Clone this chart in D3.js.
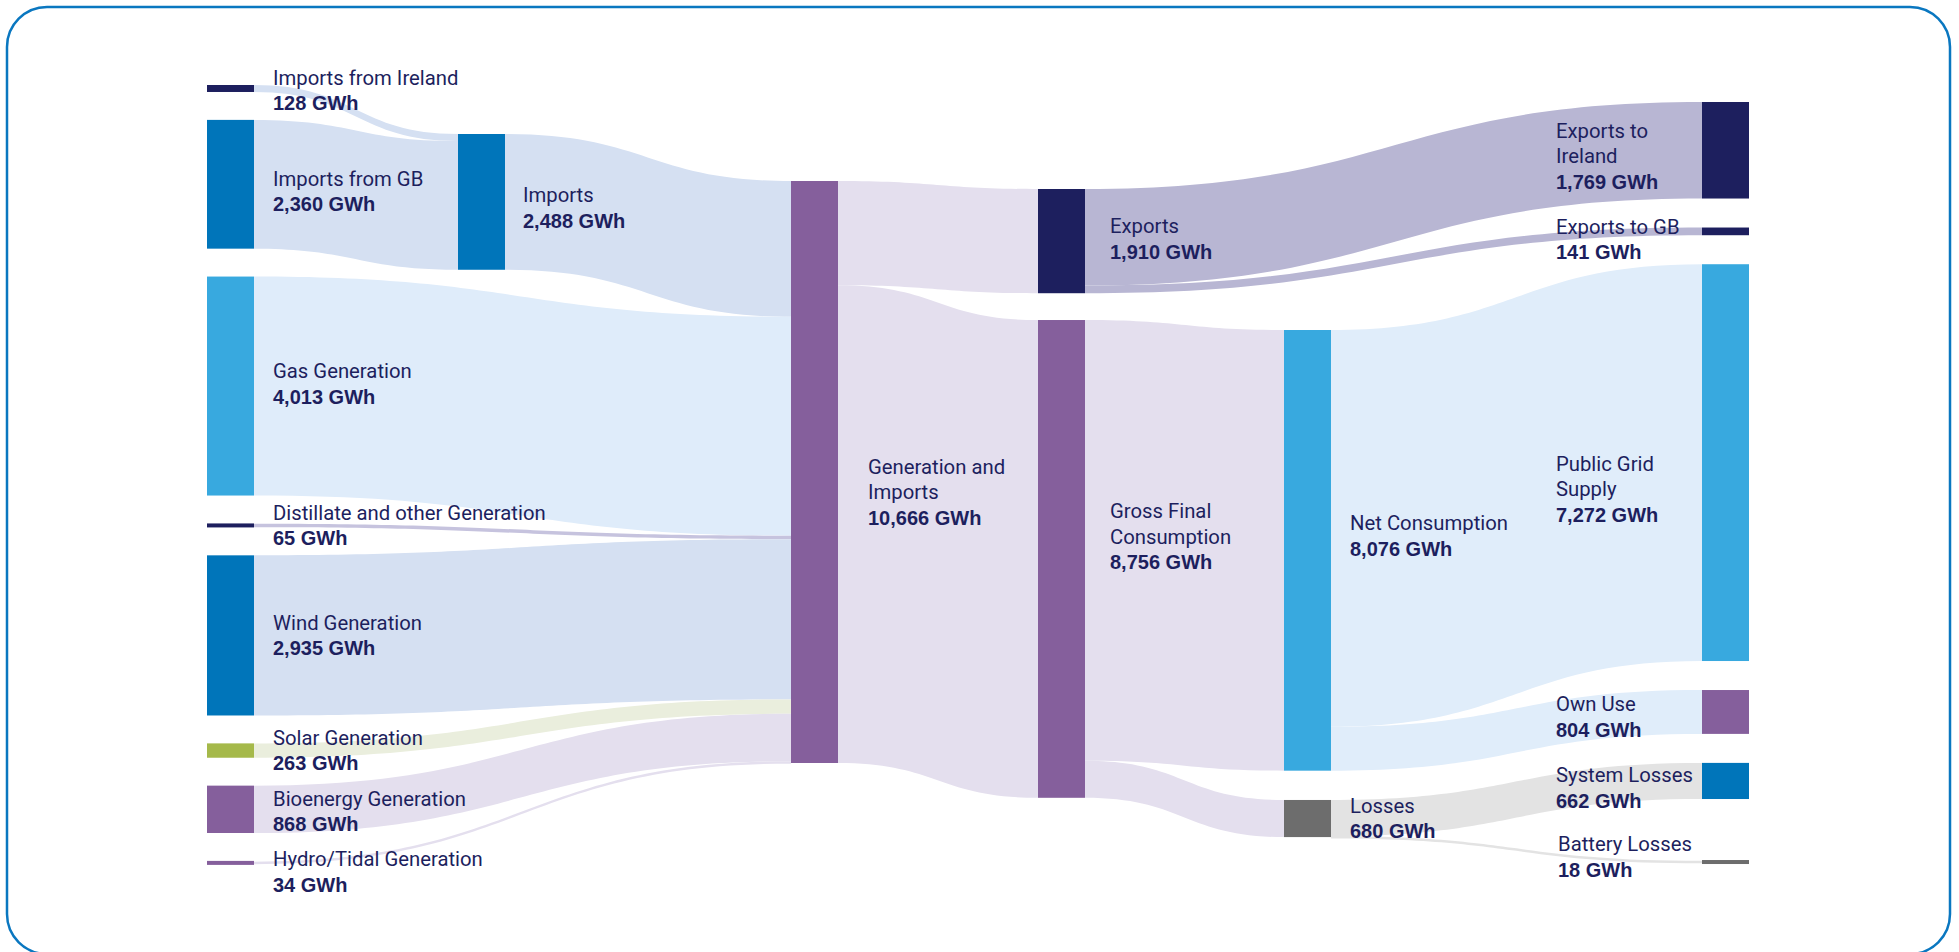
<!DOCTYPE html>
<html>
<head>
<meta charset="utf-8">
<script src="https://cdn.jsdelivr.net/npm/d3@7"></script>
<style>
  html, body { margin: 0; padding: 0; background: #ffffff; }
  svg { display: block; }
  .name { font-family: Roboto, "Liberation Sans", Arial, sans-serif; font-size: 20.3px; fill: #1d1f5e; }
  .val { font-family: "Liberation Sans", Arial, sans-serif; font-size: 20px; font-weight: 700; fill: #1d1f5e; }
</style>
</head>
<body>
<svg id="chart" width="1959" height="952"></svg>
<script>
// ---- Data -----------------------------------------------------------------
const nodeNames = [
  "Imports from Ireland", "Imports from GB", "Gas Generation",
  "Distillate and other Generation", "Wind Generation", "Solar Generation",
  "Bioenergy Generation", "Hydro/Tidal Generation",
  "Imports", "Generation and Imports",
  "Exports", "Gross Final Consumption",
  "Net Consumption", "Losses",
  "Exports to Ireland", "Exports to GB", "Public Grid Supply",
  "Own Use", "System Losses", "Battery Losses"
];
// label text as printed (line breaks where the label wraps)
const nodeLabels = [
  ["Imports from Ireland"], ["Imports from GB"], ["Gas Generation"],
  ["Distillate and other Generation"], ["Wind Generation"], ["Solar Generation"],
  ["Bioenergy Generation"], ["Hydro/Tidal Generation"],
  ["Imports"], ["Generation and", "Imports"],
  ["Exports"], ["Gross Final", "Consumption"],
  ["Net Consumption"], ["Losses"],
  ["Exports to", "Ireland"], ["Exports to GB"], ["Public Grid", "Supply"],
  ["Own Use"], ["System Losses"], ["Battery Losses"]
];
// flow stage of each node
const nodeStage = [0, 0, 0, 0, 0, 0, 0, 0, 1, 2, 3, 3, 4, 4, 5, 5, 5, 5, 5, 5];

// flows in GWh
const linkSource = [0, 1, 8, 2, 3, 4, 5, 6, 7, 9, 9, 10, 10, 11, 11, 12, 12, 13, 13];
const linkTarget = [8, 8, 9, 9, 9, 9, 9, 9, 9, 10, 11, 14, 15, 12, 13, 16, 17, 18, 19];
const linkValue  = [128, 2360, 2488, 4013, 65, 2935, 263, 868, 34, 1910, 8756, 1769, 141, 8076, 680, 7272, 804, 662, 18];

// ---- Styles ---------------------------------------------------------------
const NAVY = "#1d1f5e", BLUE = "#0075ba", SKY = "#38a9df", PURPLE = "#855f9c",
      OLIVE = "#a5b94a", GREY = "#6d6d6d";
const nodeColors = [NAVY, BLUE, SKY, NAVY, BLUE, OLIVE, PURPLE, PURPLE,
  BLUE, PURPLE, NAVY, PURPLE, SKY, GREY, NAVY, NAVY, SKY, PURPLE, BLUE, GREY];
const linkColors = ["#d5e0f2", "#d5e0f2", "#d5e0f2", "#dfecfa", "#c6c3de", "#d5e0f2",
  "#eaeedd", "#e4dfee", "#e4dfee", "#e4dfee", "#e4dfee", "#b8b6d3", "#b8b6d3",
  "#e4dfee", "#e4dfee", "#e0edfa", "#e0edfa", "#e3e3e3", "#e3e3e3"];

// ---- Layout ---------------------------------------------------------------
const stageX    = [207, 458, 791, 1038, 1284, 1702];
const stageTop  = [85, 134, 181, 189, 330, 102];
const stagePad  = [27.9, 0, 0, 26.8, 29.3, 29];
const extraGap  = { "Battery Losses": 32 };
const labelDx   = [19, 18, 30, 25, 19, -146];
const labelNudgeX = { "Battery Losses": 2 };
const labelShift = {
  "Imports from Ireland": 2, "Imports from GB": 7, "Gas Generation": -2,
  "Bioenergy Generation": 2, "Hydro/Tidal Generation": 9, "Imports": 6,
  "Generation and Imports": 20, "Exports": -2, "Gross Final Consumption": -22,
  "Net Consumption": -14.4, "Exports to Ireland": 6, "Exports to GB": 8,
  "Public Grid Supply": 26.5, "Own Use": 5, "System Losses": 7, "Battery Losses": -5
};
const nodeWidth = 47, minNode = 4, minLink = 2.5, lineH = 25.5, capHalf = 7;

const svg = d3.select("#chart");

// nodes and links
const nodes = nodeNames.map((name, i) => ({
  index: i, name, lines: nodeLabels[i], stage: nodeStage[i],
  color: nodeColors[i], out: [], in: []
}));
const links = linkValue.map((v, i) => ({
  source: nodes[linkSource[i]], target: nodes[linkTarget[i]], value: v, color: linkColors[i]
}));
links.forEach(l => { l.source.out.push(l); l.target.in.push(l); });
nodes.forEach(n => {
  n.value = Math.max(d3.sum(n.in, l => l.value), d3.sum(n.out, l => l.value));
});

const y = d3.scaleLinear()
  .domain([0, d3.max(nodes, n => n.value)])
  .range([0, 582]);

const xStage = d3.scaleOrdinal().domain(d3.range(stageX.length)).range(stageX);

// stack nodes in each stage
d3.groups(nodes, n => n.stage).forEach(([stage, group]) => {
  let cy = stageTop[stage];
  group.forEach(n => {
    cy += extraGap[n.name] || 0;
    n.x0 = xStage(stage);
    n.x1 = n.x0 + nodeWidth;
    n.y0 = cy;
    n.y1 = cy + Math.max(y(n.value), minNode);
    cy = n.y1 + stagePad[stage];
  });
});

// link widths and attachment points
links.forEach(l => { l.width = Math.max(y(l.value), minLink); });
nodes.forEach(n => {
  const h = n.y1 - n.y0;
  const outs = n.out.slice().sort((a, b) => a.target.y0 - b.target.y0);
  let sy = n.y0 + Math.max(0, (h - d3.sum(outs, l => l.width)) / 2);
  outs.forEach(l => { l.sy = sy; sy += l.width; });
  const ins = n.in.slice().sort((a, b) => a.source.y0 - b.source.y0);
  let ty = n.y0 + Math.max(0, (h - d3.sum(ins, l => l.width)) / 2);
  ins.forEach(l => { l.ty = ty; ty += l.width; });
});

function band(l) {
  const x0 = l.source.x1, x1 = l.target.x0, xm = (x0 + x1) / 2;
  const p = d3.path();
  p.moveTo(x0, l.sy);
  p.bezierCurveTo(xm, l.sy, xm, l.ty, x1, l.ty);
  p.lineTo(x1, l.ty + l.width);
  p.bezierCurveTo(xm, l.ty + l.width, xm, l.sy + l.width, x0, l.sy + l.width);
  p.closePath();
  return p.toString();
}

// frame
svg.append("rect")
  .attr("x", 7).attr("y", 7).attr("width", 1943).attr("height", 947)
  .attr("rx", 40).attr("ry", 40)
  .attr("fill", "#ffffff").attr("stroke", "#0a77c0").attr("stroke-width", 2.5);

// flows
svg.append("g").selectAll("path")
  .data(links)
  .join("path")
  .attr("d", band)
  .attr("fill", d => d.color);

// node bars
svg.append("g").selectAll("rect")
  .data(nodes)
  .join("rect")
  .attr("x", d => d.x0).attr("y", d => d.y0)
  .attr("width", d => d.x1 - d.x0).attr("height", d => d.y1 - d.y0)
  .attr("fill", d => d.color);

// labels
const fmt = d3.format(",");
const lab = svg.append("g").selectAll("text")
  .data(nodes)
  .join("text")
  .attr("x", d => (d.stage === 5 ? d.x0 : d.x1) + labelDx[d.stage] + (labelNudgeX[d.name] || 0))
  .attr("y", d => {
    const n = d.lines.length + 1;
    const cy = (d.y0 + d.y1) / 2 + (labelShift[d.name] || 0);
    return cy - (n - 1) * lineH / 2 + capHalf;
  });
lab.each(function(d) {
  const t = d3.select(this);
  const x = +t.attr("x");
  d.lines.forEach((line, i) => {
    t.append("tspan").attr("class", "name").attr("x", x).attr("dy", i === 0 ? 0 : lineH).text(line);
  });
  t.append("tspan").attr("class", "val").attr("x", x).attr("dy", lineH).text(fmt(d.value) + " GWh");
});
</script>
</body>
</html>
